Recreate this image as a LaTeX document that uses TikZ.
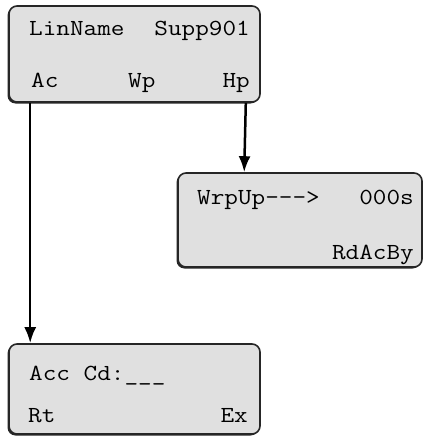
\documentclass[tikz,border=0pt]{standalone}
\usepackage{fontspec}
\usetikzlibrary{arrows.meta}
\usetikzlibrary{shadows}

\newcommand{\lcdtype}[1]{\scalebox{1.15}[1]{#1}}

\begin{document}
\begin{tikzpicture}[x=1pt,y=-1pt]

\tikzset{lcd screen/.style={
    draw=black!85, line width=1.6pt, fill=black!12, rounded corners=8pt,
    inner sep=0pt,
    drop shadow={shadow xshift=-1.5pt, shadow yshift=-1.5pt, opacity=1,
      fill=black!85}
  },
  lcd text/.style={inner sep=0pt, font=\fontsize{23}{27}\selectfont\ttfamily},
  lcd arrow/.style={line width=2.5pt, -{Latex[length=16pt,width=12pt]}}
}
\useasboundingbox (0,0) rectangle (423,436);

% screens
\node[lcd screen, minimum width=251pt, minimum height=96pt] (menu) at (134.5,54) {};
\node[lcd screen, minimum width=244pt, minimum height=94pt] (warmup) at (300,220) {};
\node[lcd screen, minimum width=251pt, minimum height=90pt] (access) at (134.5,389) {};

% menu screen
\node[lcd text, anchor=base west] (linname) at (29,36) {\lcdtype{LinName}};
\node[lcd text, anchor=base east] (supp) at (250,36) {\lcdtype{Supp901}};
\node[lcd text, anchor=base west] (ac) at (31,88) {\lcdtype{Ac}};
\node[lcd text, anchor=base west] (wp) at (128,88) {\lcdtype{Wp}};
\node[lcd text, anchor=base east] (hp) at (250,88) {\lcdtype{Hp}};

% warm up screen
\node[lcd text, anchor=base west] (wrpup) at (197,204) {\lcdtype{WrpUp-{}-{}->}};
\node[lcd text, anchor=base east] (secs) at (414,204) {\lcdtype{000s}};
\node[lcd text, anchor=base east] (rdacby) at (414,259) {\lcdtype{RdAcBy}};

% access code screen
\node[lcd text, anchor=base west] (acccd) at (29,380) {\lcdtype{Acc Cd:\_\_\_}};
\node[lcd text, anchor=base west] (rt) at (28,422) {\lcdtype{Rt}};
\node[lcd text, anchor=base east] (ex) at (248,422) {\lcdtype{Ex}};

\draw[lcd arrow] ([xshift=22pt]menu.south west) -- ([xshift=22pt]access.north west);
\draw[lcd arrow] ([xshift=-15pt]menu.south east) -- ([xshift=67pt]warmup.north west);
\end{tikzpicture}
\end{document}
